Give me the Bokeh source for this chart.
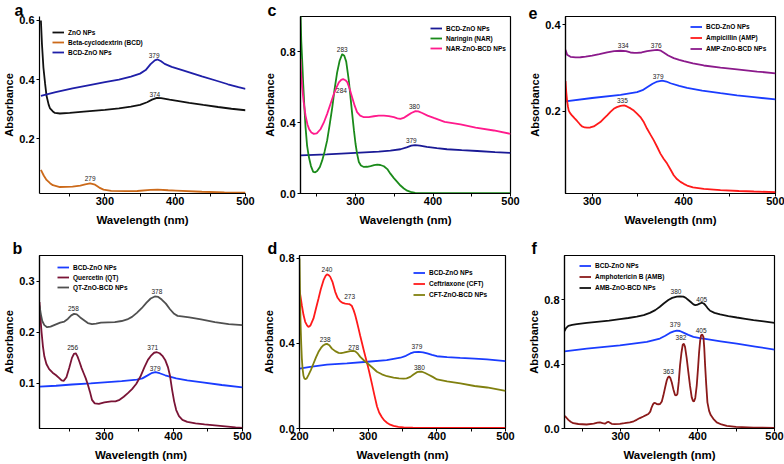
from bokeh.plotting import figure
from bokeh.models import Range1d, Title, Legend, LegendItem, FixedTicker, NumeralTickFormatter
from bokeh.layouts import row, column
from bokeh.embed import file_html
from bokeh.resources import INLINE
from bokeh.core.properties import value

FONT = "Liberation Sans"

# ---------------- panel a ----------------
a_xr = [207, 500]; a_yr = [0.014, 0.6135]; a_yticks = [0.2, 0.4, 0.6]
a_zno_wl = [209, 210.5, 212.6, 215, 217, 220, 222, 226, 229, 236, 250, 270, 300, 320, 337, 350, 360, 367, 374, 380, 392, 405, 420, 440, 461, 480, 500]
a_zno_abs = [0.60, 0.52, 0.44, 0.385, 0.345, 0.315, 0.302, 0.292, 0.287, 0.285, 0.287, 0.291, 0.297, 0.302, 0.308, 0.314, 0.323, 0.332, 0.338, 0.337, 0.332, 0.327, 0.321, 0.314, 0.307, 0.301, 0.296]
a_bcdzno_wl = [209, 230, 254, 280, 300, 320, 337, 350, 358, 365, 371, 375, 380, 385, 395, 410, 438, 460, 475, 490, 500]
a_bcdzno_abs = [0.345, 0.357, 0.37, 0.382, 0.391, 0.400, 0.41, 0.420, 0.432, 0.452, 0.465, 0.468, 0.462, 0.453, 0.443, 0.432, 0.411, 0.395, 0.384, 0.374, 0.368]
a_beta_wl = [209, 213, 217, 222, 226, 236, 254, 265, 272, 279, 286, 292, 298, 309, 330, 346, 365, 375, 390, 401, 438, 470, 500]
a_beta_abs = [0.094, 0.075, 0.06, 0.049, 0.042, 0.036, 0.037, 0.041, 0.045, 0.048, 0.044, 0.034, 0.027, 0.023, 0.022, 0.0225, 0.026, 0.027, 0.025, 0.024, 0.02, 0.018, 0.017]
a_lbl_x = [279, 371, 370]; a_lbl_y = [0.065, 0.350, 0.482]; a_lbl_t = ["279", "374", "379"]

# ---------------- panel b ----------------
b_xr = [206, 500]; b_yr = [0.012, 0.35]; b_yticks = [0.1, 0.2, 0.3]
b_bcd_wl = [206, 230, 253, 280, 300, 325, 347, 355, 362, 368, 374, 380, 388, 404, 420, 442, 470, 500]
b_bcd_abs = [0.094, 0.0955, 0.098, 0.1, 0.102, 0.1045, 0.1075, 0.110, 0.1153, 0.120, 0.122, 0.120, 0.116, 0.110, 0.106, 0.102, 0.097, 0.0925]
b_qt_wl = [206, 207.5, 209, 211, 213, 216, 220, 225, 230, 235, 238, 241, 245, 249, 253, 256, 258.5, 261, 264, 267, 270, 273, 276, 279, 282, 286, 292, 300, 310, 316, 322, 328, 334, 340, 346, 352, 358, 363, 368, 372, 376, 380, 384, 388, 392, 395, 398, 401, 404, 408, 413, 420, 432, 445, 460, 475, 490, 500]
b_qt_abs = [0.259, 0.225, 0.2, 0.172, 0.153, 0.138, 0.128, 0.121, 0.116, 0.110, 0.106, 0.105, 0.112, 0.13, 0.15, 0.158, 0.159, 0.153, 0.142, 0.13, 0.12, 0.11, 0.098, 0.084, 0.068, 0.061, 0.060, 0.063, 0.065, 0.065, 0.068, 0.074, 0.081, 0.089, 0.099, 0.113, 0.132, 0.146, 0.155, 0.160, 0.161, 0.159, 0.154, 0.146, 0.132, 0.115, 0.088, 0.065, 0.048, 0.036, 0.029, 0.025, 0.022, 0.02, 0.018, 0.016, 0.014, 0.013]
b_qtz_wl = [206, 208, 210, 213, 217, 222, 229, 236, 242, 247, 252, 256, 260, 265, 270, 276, 282, 288, 295, 305, 315, 325, 333, 340, 347, 354, 361, 367, 373, 378, 383, 389, 395, 401, 406, 412, 423, 440, 460, 480, 500]
b_qtz_abs = [0.252, 0.235, 0.222, 0.214, 0.21, 0.211, 0.215, 0.219, 0.221, 0.226, 0.233, 0.236, 0.235, 0.229, 0.224, 0.218, 0.216, 0.217, 0.219, 0.2195, 0.22, 0.222, 0.225, 0.23, 0.238, 0.247, 0.258, 0.266, 0.27, 0.269, 0.264, 0.256, 0.245, 0.236, 0.232, 0.231, 0.229, 0.225, 0.22, 0.216, 0.214]
b_lbl_x = [255, 376, 254, 370, 373.5]; b_lbl_y = [0.2456, 0.2795, 0.1694, 0.170, 0.130]; b_lbl_t = ["258", "378", "256", "371", "379"]

# ---------------- panel c ----------------
c_xr = [229, 500]; c_yr = [0.0, 1.0]; c_yticks = [0.0, 0.4, 0.8]
c_bcd_wl = [229, 263, 300, 330, 345, 358, 366, 372, 377, 383, 392, 405, 418, 437, 457, 480, 500]
c_bcd_abs = [0.215, 0.221, 0.23, 0.237, 0.242, 0.25, 0.261, 0.27, 0.2735, 0.271, 0.263, 0.256, 0.25, 0.245, 0.24, 0.234, 0.229]
c_nar_wl = [229, 230, 231.2, 232.5, 234, 235.5, 237.5, 239.8, 242.5, 245.4, 248, 250.5, 254, 257, 260, 263.4, 266.5, 270, 273, 276.3, 279.5, 282.8, 285.5, 288, 291.4, 293.5, 295.7, 298, 300, 302, 304.3, 307, 310.8, 315, 319.4, 324, 328, 332, 336.6, 341, 345, 349.5, 353.8, 358, 362.4, 366.7, 371, 377, 384, 400, 435, 470, 500]
c_nar_abs = [1.02, 0.862, 0.75, 0.618, 0.49, 0.375, 0.27, 0.206, 0.155, 0.122, 0.12, 0.127, 0.15, 0.187, 0.235, 0.3, 0.385, 0.487, 0.59, 0.684, 0.75, 0.787, 0.778, 0.745, 0.637, 0.545, 0.45, 0.355, 0.281, 0.225, 0.178, 0.158, 0.15, 0.151, 0.155, 0.16, 0.163, 0.161, 0.154, 0.138, 0.112, 0.087, 0.066, 0.045, 0.028, 0.016, 0.009, 0.004, 0.002, 0.002, 0.002, 0.002, 0.002]
c_narz_wl = [229, 229.5, 231.2, 233, 235.5, 238, 240, 243, 246.2, 250, 254.8, 259, 263.4, 268, 272, 275.5, 278.5, 281.5, 284, 287, 289.5, 292.5, 295.7, 299, 302, 306, 310.8, 317, 323.7, 330, 336.6, 343, 349.5, 354, 358, 362, 366.7, 372, 377.4, 381, 386, 393, 401, 415, 435.5, 455, 478.5, 500]
c_narz_abs = [0.76, 0.7, 0.6, 0.52, 0.44, 0.39, 0.365, 0.345, 0.337, 0.34, 0.363, 0.4, 0.45, 0.51, 0.562, 0.6, 0.628, 0.642, 0.646, 0.64, 0.628, 0.59, 0.543, 0.495, 0.46, 0.44, 0.431, 0.432, 0.4365, 0.44, 0.44, 0.437, 0.431, 0.425, 0.4215, 0.427, 0.44, 0.455, 0.465, 0.464, 0.455, 0.44, 0.427, 0.405, 0.39, 0.372, 0.356, 0.337]
c_lbl_x = [282.8, 281.9, 376, 372]; c_lbl_y = [0.811, 0.581, 0.491, 0.298]; c_lbl_t = ["283", "284", "380", "379"]

# ---------------- panel d ----------------
d_xr = [200, 500]; d_yr = [0.0, 0.814]; d_yticks = [0.0, 0.4, 0.8]
d_bcd_wl = [200, 215.6, 240, 269, 299, 327, 347, 355, 361.4, 367, 373.6, 380, 386, 393, 400, 415, 434, 455, 473, 500]
d_bcd_abs = [0.282, 0.29, 0.301, 0.306, 0.314, 0.322, 0.333, 0.342, 0.353, 0.359, 0.361, 0.358, 0.353, 0.346, 0.34, 0.336, 0.3325, 0.329, 0.325, 0.317]
d_cft_wl = [200, 201.5, 203.4, 205.8, 208.3, 211, 213, 216, 220.4, 224, 227.7, 231, 235, 238, 240, 242.5, 244.7, 248, 252, 255.5, 259.3, 263, 266.6, 270, 273, 276, 278.8, 281, 283.6, 286, 288.5, 291, 293.3, 296, 299.2, 302, 305.5, 309, 312.8, 316, 320, 323.5, 327.4, 332, 337, 344, 351.7, 365, 385.7, 420, 460, 500]
d_cft_abs = [0.651, 0.62, 0.58, 0.535, 0.502, 0.485, 0.478, 0.485, 0.518, 0.565, 0.612, 0.655, 0.698, 0.718, 0.725, 0.722, 0.714, 0.69, 0.643, 0.615, 0.599, 0.591, 0.588, 0.586, 0.585, 0.578, 0.557, 0.535, 0.502, 0.47, 0.435, 0.402, 0.372, 0.338, 0.298, 0.26, 0.21, 0.158, 0.105, 0.075, 0.053, 0.038, 0.027, 0.018, 0.012, 0.008, 0.005, 0.004, 0.003, 0.003, 0.003, 0.003]
d_cftz_wl = [200, 200.8, 201.5, 202.5, 203.4, 204.5, 205.8, 207, 208.3, 210.5, 213, 216.5, 220.4, 224, 227.7, 231.5, 235, 238, 240, 243.5, 247.2, 252, 256.9, 260.5, 264.2, 269, 273.9, 278, 281.2, 285, 288.5, 294, 299.2, 306, 312.8, 320, 327.4, 337, 345, 351.7, 356, 361.4, 366, 371, 375, 378.4, 383, 388, 394, 400.3, 415, 434.3, 455, 473.2, 500]
d_cftz_abs = [0.8, 0.62, 0.5, 0.4, 0.33, 0.28, 0.248, 0.236, 0.232, 0.236, 0.251, 0.275, 0.306, 0.335, 0.361, 0.38, 0.392, 0.397, 0.398, 0.392, 0.376, 0.364, 0.356, 0.355, 0.357, 0.361, 0.364, 0.365, 0.363, 0.352, 0.337, 0.32, 0.306, 0.287, 0.267, 0.255, 0.246, 0.239, 0.236, 0.235, 0.236, 0.243, 0.254, 0.265, 0.268, 0.267, 0.261, 0.253, 0.243, 0.231, 0.222, 0.212, 0.2, 0.193, 0.177]
d_lbl_x = [240, 273, 237.4, 278.8, 371, 374.5]; d_lbl_y = [0.75, 0.62, 0.42, 0.381, 0.384, 0.285]; d_lbl_t = ["240", "273", "238", "278", "379", "380"]

# ---------------- panel e ----------------
e_xr = [271, 500]; e_yr = [0.0107, 0.419]; e_yticks = [0.2, 0.4]
e_bcd_wl = [271, 300, 331, 349, 355, 360, 366, 371, 376.4, 381, 385.5, 395, 403.6, 420, 440, 458, 476.4, 500]
e_bcd_abs = [0.223, 0.231, 0.238, 0.2444, 0.249, 0.256, 0.264, 0.269, 0.271, 0.269, 0.265, 0.259, 0.2544, 0.248, 0.242, 0.237, 0.233, 0.2276]
e_amp_wl = [271, 271.8, 272.7, 273.6, 274.5, 276, 278, 281, 283.6, 286.5, 289, 292, 294.5, 298, 301.8, 305, 309, 313, 316.4, 320, 323.6, 327, 331, 335, 338, 342, 345.5, 349, 352.7, 356.5, 360, 363.5, 367.3, 371, 374.5, 378, 381.8, 385.5, 389, 392.5, 396.4, 400, 403.6, 410, 421.8, 440, 460, 476.4, 500]
e_amp_abs = [0.27, 0.245, 0.225, 0.212, 0.202, 0.196, 0.191, 0.184, 0.178, 0.171, 0.1655, 0.163, 0.1625, 0.163, 0.1655, 0.17, 0.1755, 0.184, 0.191, 0.199, 0.206, 0.21, 0.213, 0.214, 0.2115, 0.207, 0.202, 0.195, 0.187, 0.175, 0.16, 0.147, 0.1333, 0.118, 0.1027, 0.091, 0.0797, 0.066, 0.0529, 0.044, 0.0375, 0.033, 0.0291, 0.025, 0.0215, 0.0184, 0.0165, 0.0153, 0.0138]
e_ampz_wl = [271, 272.7, 276.4, 282, 287.3, 293, 300, 308, 316.4, 324, 331, 337, 341.8, 346, 349, 354, 360, 366, 371, 375, 378, 383, 389, 395, 400, 410, 421.8, 440, 458, 480, 500]
e_ampz_abs = [0.342, 0.331, 0.326, 0.3245, 0.325, 0.3265, 0.329, 0.332, 0.336, 0.339, 0.34, 0.339, 0.336, 0.335, 0.335, 0.336, 0.339, 0.341, 0.342, 0.34, 0.336, 0.329, 0.323, 0.319, 0.316, 0.311, 0.306, 0.301, 0.297, 0.292, 0.288]
e_lbl_x = [334, 370, 372, 333]; e_lbl_y = [0.353, 0.353, 0.281, 0.226]; e_lbl_t = ["334", "376", "379", "335"]

# ---------------- panel f ----------------
f_xr = [227, 500]; f_yr = [0.0, 1.077]; f_yticks = [0.0, 0.4, 0.8]
f_bcd_wl = [227, 256, 299, 334, 351, 358, 364, 369, 373, 377, 381.6, 388, 394.6, 403, 412, 430, 451, 475, 500]
f_bcd_abs = [0.48, 0.497, 0.518, 0.539, 0.56, 0.577, 0.595, 0.605, 0.61, 0.607, 0.597, 0.583, 0.57, 0.562, 0.556, 0.543, 0.528, 0.51, 0.491]
f_amb_wl = [227, 229, 232, 235, 238.4, 245, 255.7, 265, 270, 273.1, 276.5, 279.6, 282, 284, 286, 288.3, 292, 299, 305, 312, 317, 320.8, 325, 329.5, 333, 336, 338.5, 340.3, 342, 343.4, 345, 346.9, 349, 351.2, 353.5, 355.5, 357.8, 359.9, 361.5, 362.9, 364.5, 366.4, 368.5, 370.7, 372.3, 373.8, 375.5, 377.2, 379, 380.7, 382.2, 383.7, 385.8, 388, 390.2, 392.4, 394, 395.4, 397, 398.9, 400.5, 402, 403.3, 404.6, 406, 407.6, 408.7, 409.8, 411.3, 412.8, 415, 417.1, 420.5, 424.9, 431, 438, 450, 472.7, 500]
f_amb_abs = [0.079, 0.07, 0.054, 0.042, 0.033, 0.028, 0.025, 0.03, 0.036, 0.038, 0.033, 0.03, 0.038, 0.042, 0.036, 0.029, 0.027, 0.029, 0.033, 0.038, 0.045, 0.054, 0.065, 0.075, 0.083, 0.09, 0.105, 0.132, 0.15, 0.159, 0.158, 0.152, 0.151, 0.152, 0.168, 0.205, 0.255, 0.299, 0.318, 0.324, 0.315, 0.288, 0.245, 0.209, 0.205, 0.215, 0.29, 0.393, 0.47, 0.522, 0.528, 0.508, 0.44, 0.351, 0.265, 0.194, 0.172, 0.169, 0.19, 0.267, 0.37, 0.476, 0.545, 0.581, 0.585, 0.57, 0.5, 0.393, 0.27, 0.163, 0.11, 0.0835, 0.06, 0.038, 0.025, 0.0167, 0.01, 0.006, 0.004]
f_ambz_wl = [227, 229, 232, 237, 243, 256, 269, 285, 299, 310, 321, 330, 338, 345, 351, 356, 362, 367, 373, 377, 381.6, 385, 388, 391.5, 394.6, 397, 399, 402, 405.4, 408, 410, 413, 416.3, 422, 429.3, 440, 451, 462, 472.7, 486, 500]
f_ambz_abs = [0.606, 0.625, 0.639, 0.645, 0.65, 0.657, 0.664, 0.672, 0.681, 0.688, 0.696, 0.706, 0.72, 0.737, 0.758, 0.778, 0.8, 0.813, 0.821, 0.823, 0.821, 0.812, 0.8, 0.786, 0.773, 0.768, 0.769, 0.776, 0.783, 0.778, 0.769, 0.75, 0.733, 0.72, 0.71, 0.7, 0.691, 0.683, 0.675, 0.667, 0.658]
f_lbl_x = [372, 405.4, 371, 378.5, 404.6, 362]; f_lbl_y = [0.852, 0.806, 0.647, 0.564, 0.612, 0.357]; f_lbl_t = ["380", "405", "379", "382", "405", "363"]

X_TICKS = [200, 300, 400, 500]
X_MINOR = [250, 350, 450]


def make_panel(letter, xr, yr, yticks, W, H, L, R, T, B, box, series,
               leg_dx, leg_dy, leg_ih, lbl, letter_off, letter_standoff):
    fh = H - T - B
    p = figure(width=W, height=H, x_range=Range1d(*xr), y_range=Range1d(*yr),
               output_backend="svg", toolbar_location=None, title=None,
               min_border_left=L, min_border_right=R, min_border_top=T, min_border_bottom=B)
    p.background_fill_color = "white"
    p.border_fill_color = "white"
    p.xgrid.visible = False
    p.ygrid.visible = False
    p.outline_line_color = "black" if box else None
    p.outline_line_width = 1.2
    p.xaxis.ticker = FixedTicker(ticks=[t for t in X_TICKS if xr[0] <= t <= xr[1]], minor_ticks=X_MINOR)
    p.yaxis.ticker = FixedTicker(ticks=yticks)
    p.yaxis.formatter = NumeralTickFormatter(format="0.0")
    for ax in (p.xaxis[0], p.yaxis[0]):
        ax.axis_line_width = 1.2
        ax.major_tick_in = 0
        ax.major_tick_out = 3
        ax.minor_tick_in = 0
        ax.minor_tick_out = 3
        ax.major_label_text_font = FONT
        ax.major_label_text_font_size = "11px"
        ax.major_label_text_font_style = "bold"
        ax.major_label_text_color = "black"
        ax.axis_label_text_font = FONT
        ax.axis_label_text_font_style = "bold"
        ax.axis_label_text_color = "black"
    p.xaxis.axis_label = "Wavelength (nm)"
    p.xaxis.axis_label_text_font_size = "11.5px"
    p.xaxis.major_label_standoff = 0
    p.xaxis.axis_label_standoff = 6
    p.yaxis.axis_label = "Absorbance"
    p.yaxis.axis_label_text_font_size = "11px"
    p.yaxis.major_label_standoff = 2
    p.yaxis.axis_label_standoff = 1

    items = []
    for name, xs, ys, col in series:
        r = p.line(x=xs, y=ys, line_color=col, line_width=1.8)
        items.append(LegendItem(label=name, renderers=[r]))
    n = len(items)
    box_h = n * leg_ih
    loc_y = fh - (leg_dy - leg_ih / 2) - box_h
    leg = Legend(items=items, location=(leg_dx, loc_y), label_text_font=FONT,
                 label_text_font_size="6.5px", label_text_font_style="bold",
                 label_text_color="black", glyph_width=12, glyph_height=leg_ih,
                 label_height=leg_ih, label_standoff=4, spacing=0, padding=0, margin=0,
                 border_line_alpha=0, background_fill_alpha=0)
    p.add_layout(leg)

    lx, ly, lt = lbl
    p.text(x=lx, y=ly, text=lt, text_font=value(FONT), text_font_size="6.5px",
           text_align="center", text_baseline="middle", text_color="#222222")

    p.add_layout(Title(text=letter, align="left", offset=letter_off, standoff=letter_standoff,
                       text_font=FONT, text_font_size="16px", text_font_style="bold",
                       text_color="black", vertical_align="bottom"), "above")
    return p


BLUE = "#1a3cff"
pa = make_panel("a", a_xr, a_yr, a_yticks, 260, 232, 34, 15, 16, 39, False,
                [("ZnO NPs", a_zno_wl, a_zno_abs, "#111111"),
                 ("Beta-cyclodextrin (BCD)", a_beta_wl, a_beta_abs, "#cc6a1a"),
                 ("BCD-ZnO NPs", a_bcdzno_wl, a_bcdzno_abs, "#1f1fa8")],
                13, 16, 10, (a_lbl_x, a_lbl_y, a_lbl_t), -25, -4)
pc = make_panel("c", c_xr, c_yr, c_yticks, 262, 232, 40, 12, 16, 39, True,
                [("BCD-ZnO NPs", c_bcd_wl, c_bcd_abs, "#1a1a96"),
                 ("Naringin (NAR)", c_nar_wl, c_nar_abs, "#1a8a1a"),
                 ("NAR-ZnO-BCD NPs", c_narz_wl, c_narz_abs, "#ff1a8c")],
                130, 12, 10, (c_lbl_x, c_lbl_y, c_lbl_t), -33, -4)
pe = make_panel("e", e_xr, e_yr, e_yticks, 262, 232, 43, 9, 16, 39, True,
                [("BCD-ZnO NPs", e_bcd_wl, e_bcd_abs, BLUE),
                 ("Ampicillin (AMP)", e_amp_wl, e_amp_abs, "#ff1a1a"),
                 ("AMP-ZnO-BCD NPs", e_ampz_wl, e_ampz_abs, "#8b1a8b")],
                125, 10, 11, (e_lbl_x, e_lbl_y, e_lbl_t), -37, -4)
pb = make_panel("b", b_xr, b_yr, b_yticks, 260, 232, 34, 18, 23, 36, True,
                [("BCD-ZnO NPs", b_bcd_wl, b_bcd_abs, BLUE),
                 ("Quercetin (QT)", b_qt_wl, b_qt_abs, "#7a1436"),
                 ("QT-ZnO-BCD NPs", b_qtz_wl, b_qtz_abs, "#505050")],
                18, 12, 10, (b_lbl_x, b_lbl_y, b_lbl_t), -27, -2)
pd_ = make_panel("d", d_xr, d_yr, d_yticks, 262, 232, 39, 17, 23, 36, True,
                 [("BCD-ZnO NPs", d_bcd_wl, d_bcd_abs, BLUE),
                  ("Ceftriaxone (CFT)", d_cft_wl, d_cft_abs, "#ff1a1a"),
                  ("CFT-ZnO-BCD NPs", d_cftz_wl, d_cftz_abs, "#80800f")],
                 114, 17, 11, (d_lbl_x, d_lbl_y, d_lbl_t), -32, -2)
pf = make_panel("f", f_xr, f_yr, f_yticks, 262, 232, 42, 10, 23, 36, True,
                [("BCD-ZnO NPs", f_bcd_wl, f_bcd_abs, BLUE),
                 ("Amphotericin B (AMB)", f_amb_wl, f_amb_abs, "#8b1a1a"),
                 ("AMB-ZnO-BCD NPs", f_ambz_wl, f_ambz_abs, "#111111")],
                15, 10, 11, (f_lbl_x, f_lbl_y, f_lbl_t), -33, -2)

layout = column(row(pa, pc, pe), row(pb, pd_, pf))
open("out.html", "w").write(file_html(layout, INLINE))
